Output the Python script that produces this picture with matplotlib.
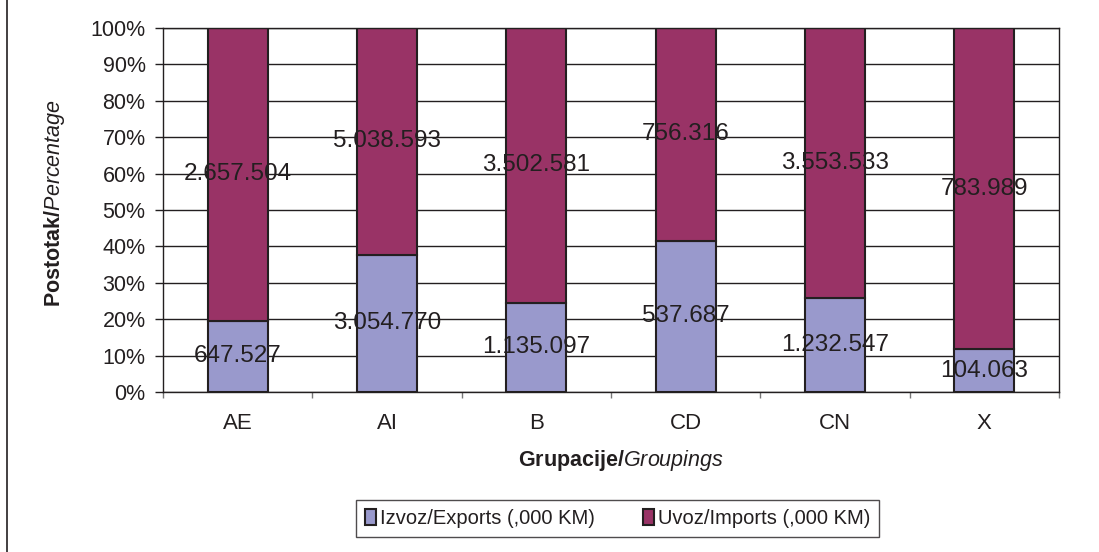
import matplotlib
matplotlib.use("Agg")
import matplotlib.pyplot as plt
import numpy as np

plt.rcParams['font.family'] = ['Liberation Sans', 'DejaVu Sans']
plt.rcParams['mathtext.fontset'] = 'custom'
plt.rcParams['mathtext.rm'] = 'Liberation Sans'
plt.rcParams['mathtext.bf'] = 'Liberation Sans:bold'
plt.rcParams['mathtext.it'] = 'Liberation Sans:italic'

# data (,000 KM)
groups = ['AE', 'AI', 'B', 'CD', 'CN', 'X']
exports = [647527, 3054770, 1135097, 537687, 1232547, 104063]
imports = [2657504, 5038593, 3502581, 756316, 3553533, 783989]
tick_labels = ['%d%%' % v for v in range(0, 101, 10)]

ink = '#231F20'
c_exp = '#9999CC'
c_imp = '#993366'

exp = np.array(exports, dtype=float)
imp = np.array(imports, dtype=float)
tot = exp + imp
exp_pct = exp / tot * 100
imp_pct = imp / tot * 100

fig = plt.figure(figsize=(10.99, 5.52), dpi=100)
ax = fig.add_axes([0.1483, 0.2899, 0.8153, 0.6594])

x = np.arange(len(groups))
ax.set_axisbelow(True)
ax.yaxis.grid(True, color=ink, lw=1.0)
b1 = ax.bar(x, exp_pct, width=0.4, color=c_exp, edgecolor=ink, lw=1.5,
            label='Izvoz/Exports (,000 KM)')
b2 = ax.bar(x, imp_pct, width=0.4, bottom=exp_pct, color=c_imp, edgecolor=ink,
            lw=1.5, label='Uvoz/Imports (,000 KM)')

def fmt(v):
    return '{:,}'.format(v).replace(',', '.')

for i in range(len(groups)):
    ax.text(x[i], exp_pct[i] / 2, fmt(exports[i]), ha='center', va='center',
            fontsize=17.5, color=ink)
    ax.text(x[i], exp_pct[i] + imp_pct[i] / 2, fmt(imports[i]), ha='center',
            va='center', fontsize=17.5, color=ink)

ax.set_xlim(-0.5, len(groups) - 0.5)
ax.set_ylim(0, 100)
ax.set_yticks(np.arange(0, 101, 10))
ax.set_yticklabels(tick_labels, fontsize=15.5, color=ink)
ax.set_xticks(x)
ax.set_xticklabels(groups, fontsize=16, color=ink)
ax.set_xticks(np.arange(-0.5, len(groups), 1), minor=True)
ax.tick_params(axis='x', which='major', length=0, pad=15)
ax.tick_params(axis='x', which='minor', length=4.5, color='#777777', width=1)
ax.tick_params(axis='y', length=5.5, color=ink, width=1, pad=7)
for s in ax.spines.values():
    s.set_color(ink)
    s.set_linewidth(1.0)

ax.set_xlabel(r'$\bf{Grupacije/}$$\it{Groupings}$', fontsize=15.5, color=ink)
ax.xaxis.set_label_coords(0.5106, -0.155)
ax.set_ylabel(r'$\bf{Postotak/}$$\it{Percentage}$', fontsize=15.5, color=ink)
ax.yaxis.set_label_coords(-0.107, 0.52)

leg = fig.legend(handles=[b1, b2], loc='center', bbox_to_anchor=(0.5619, 0.0607),
                 ncol=2, fontsize=14.5, frameon=True, fancybox=False,
                 edgecolor=ink, handlelength=0.55, handleheight=0.85,
                 handletextpad=0.2, columnspacing=2.4, borderpad=0.45,
                 borderaxespad=0)
leg.get_frame().set_linewidth(1.0)
for txt in leg.get_texts():
    txt.set_color(ink)

# left border line of the figure
fig.add_artist(plt.Line2D([0.0064, 0.0064], [0, 1], color=ink, lw=1.2,
                          transform=fig.transFigure))

fig.savefig('out.png', dpi=100)
